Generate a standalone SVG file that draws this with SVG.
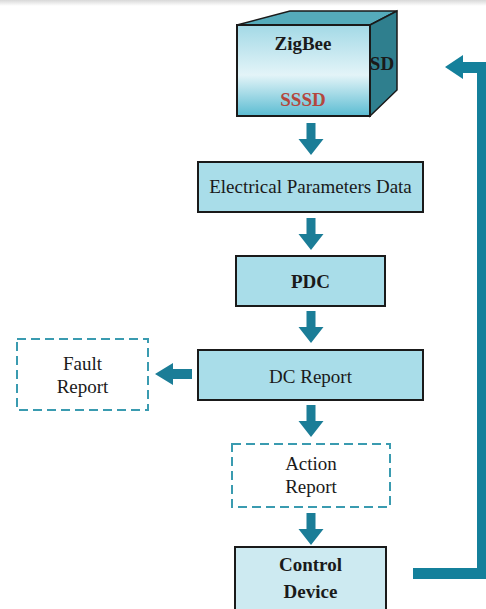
<svg xmlns="http://www.w3.org/2000/svg" width="486" height="609" viewBox="0 0 486 609">
<defs>
<linearGradient id="front" x1="0" y1="0" x2="0" y2="1">
<stop offset="0" stop-color="#a3d9e6"/>
<stop offset="0.55" stop-color="#e3f4f8"/>
<stop offset="1" stop-color="#5bbcd2"/>
</linearGradient>
<linearGradient id="topshade" x1="0" y1="0" x2="0" y2="1">
<stop offset="0" stop-color="#d8d8d8"/>
<stop offset="1" stop-color="#ffffff"/>
</linearGradient>
<path id="down" d="M-4.5,0 H4.5 V16 H12.5 L0,32 L-12.5,16 H-4.5 Z"/>
</defs>
<style>
.box{fill:#a9dde9;stroke:#1a1a1a;stroke-width:2}
.dash{fill:#ffffff;stroke:#3a9bb0;stroke-width:2;stroke-dasharray:9 5}
.arrow{fill:#1b7d97}
.t{font-family:"Liberation Serif","Times New Roman",serif;font-size:19px;fill:#1a1a1a;text-anchor:middle}
.b{font-weight:bold}
</style>
<rect x="0" y="0" width="486" height="6" fill="url(#topshade)"/>
<rect x="0" y="0" width="486" height="609" fill="#ffffff" opacity="0"/>

<g id="zigbee">
<polygon points="237,25 290,11 397,11 370,25" fill="#55abbb" stroke="#1a1a1a" stroke-width="1.5"/>
<polygon points="370,25 397,11 397,90 370,116" fill="#2f7f8e" stroke="#1a1a1a" stroke-width="1.5"/>
<rect x="237" y="25" width="133" height="91" fill="url(#front)" stroke="#1a1a1a" stroke-width="2"/>
<text class="t b" x="303" y="50" font-size="18">ZigBee</text>
<text class="t b" x="382" y="70" font-size="16">SD</text>
<text class="t b" x="303" y="106" font-size="18" style="fill:#b4473d">SSSD</text>
</g>

<g id="electrical">
<rect class="box" x="198" y="162" width="225" height="50"/>
<text class="t" x="310.5" y="193">Electrical Parameters Data</text>
</g>

<g id="pdc">
<rect class="box" x="236" y="256" width="149" height="50"/>
<text class="t b" x="310.5" y="288" font-size="20">PDC</text>
</g>

<g id="dcreport">
<rect class="box" x="198" y="350" width="225" height="50"/>
<text class="t" x="310.5" y="383">DC Report</text>
</g>

<g id="fault">
<rect class="dash" x="17" y="339" width="131" height="71"/>
<text class="t" x="82.5" y="370">Fault</text>
<text class="t" x="82.5" y="393">Report</text>
</g>

<g id="action">
<rect class="dash" x="232" y="444" width="158" height="63"/>
<text class="t" x="311" y="470">Action</text>
<text class="t" x="311" y="493">Report</text>
</g>

<g id="control">
<rect x="235" y="547" width="151" height="66" fill="#cdeaf1" stroke="#1a1a1a" stroke-width="2"/>
<text class="t b" x="310.5" y="571">Control</text>
<text class="t b" x="310.5" y="598">Device</text>
</g>

<g id="connectors" class="arrow">
<use href="#down" x="311" y="123"/>
<use href="#down" x="311" y="218"/>
<use href="#down" x="311" y="311"/>
<use href="#down" x="311" y="405"/>
<use href="#down" x="311" y="513"/>
<polygon points="192,369 192,379 173,379 173,385 155,374 173,363 173,369"/>
<polygon points="413,568 477,568 477,73 463,73 463,79 445,67 463,55 463,62 486,62 486,579 413,579" fill="#14809b"/>
</g>
</svg>
